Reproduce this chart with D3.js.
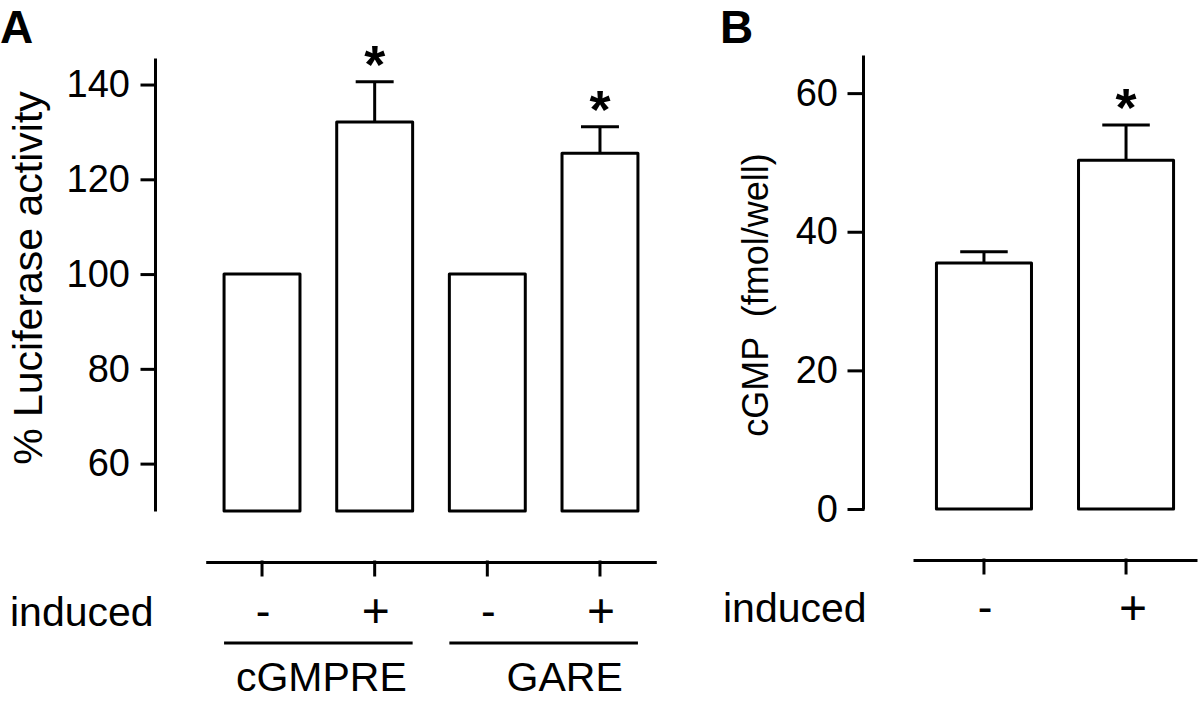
<!DOCTYPE html>
<html>
<head>
<meta charset="utf-8">
<script src="https://cdn.jsdelivr.net/npm/d3@7"></script>
<style>
  html, body { margin: 0; padding: 0; background: #fff; }
  svg { display: block; }
  text { font-family: "Liberation Sans", Arial, Helvetica, sans-serif; fill: #000; }
</style>
</head>
<body>
<svg id="chart" width="1200" height="701"></svg>
<script>
// ---------- data ----------
const catsA = ["cGMPRE -", "cGMPRE +", "GARE -", "GARE +"];
const inducedA = ["-", "+", "-", "+"];
const valuesA = [100, 132.1, 100, 125.5];
const errA = [0, 8.5, 0, 5.6];
const sigA = [false, true, false, true];
const groupsA = ["cGMPRE", "GARE"];
const ticksA = [60, 80, 100, 120, 140];

const catsB = ["-", "+"];
const valuesB = [35.5, 50.3];
const errB = [1.6, 5.1];
const sigB = [false, true];
const ticksB = [0, 20, 40, 60];

// ---------- setup ----------
const svg = d3.select("#chart");
const SW = 3;
const signSize = s => (s === "+" ? 48 : 44);

function styleAxis(g) {
  g.selectAll("path, line").attr("stroke", "#000").attr("stroke-width", SW).attr("stroke-linecap", "square");
  g.selectAll("text").attr("font-size", 38);
}

// ================= Panel A =================
const yA = d3.scaleLinear().domain([50, 145.6]).range([511, 58]);
const xA = d3.scaleBand().domain(catsA).range([205.7, 656.3]).paddingInner(0.326).paddingOuter(0.163);

svg.append("text").attr("x", 0).attr("y", 43).attr("font-size", 46).attr("font-weight", "bold").text("A");

const gyA = svg.append("g").attr("transform", "translate(155,0)")
  .call(d3.axisLeft(yA).tickValues(ticksA).tickSize(13).tickSizeOuter(0).tickPadding(12));
styleAxis(gyA);
gyA.select(".domain").attr("stroke-linecap", "butt");

svg.append("text")
  .attr("transform", "translate(42,278) rotate(-90)")
  .attr("text-anchor", "middle").attr("font-size", 41)
  .text("% Luciferase activity");

const barsA = catsA.map((c, i) => ({ c, v: valuesA[i], e: errA[i], s: sigA[i], lab: inducedA[i] }));

barsA.filter(d => d.e > 0).forEach(d => {
  const cx = xA(d.c) + xA.bandwidth() / 2;
  const hw = xA.bandwidth() / 4;
  svg.append("line").attr("x1", cx).attr("x2", cx).attr("y1", yA(d.v)).attr("y2", yA(d.v + d.e))
    .attr("stroke", "#000").attr("stroke-width", SW);
  svg.append("line").attr("x1", cx - hw).attr("x2", cx + hw).attr("y1", yA(d.v + d.e)).attr("y2", yA(d.v + d.e))
    .attr("stroke", "#000").attr("stroke-width", SW);
});

svg.append("g").selectAll("rect").data(barsA).join("rect")
  .attr("x", d => xA(d.c))
  .attr("y", d => yA(d.v))
  .attr("width", xA.bandwidth())
  .attr("height", d => yA(50) - yA(d.v))
  .attr("fill", "#fff").attr("stroke", "#000").attr("stroke-width", SW).attr("stroke-linejoin", "round");

svg.append("g").selectAll("text").data(barsA.filter(d => d.s)).join("text")
  .attr("x", d => xA(d.c) + xA.bandwidth() / 2)
  .attr("y", d => yA(d.v + d.e) + 1)
  .attr("text-anchor", "middle").attr("font-size", 54).attr("font-weight", "bold")
  .text("*");

const gxA = svg.append("g").attr("transform", "translate(0,562)")
  .call(d3.axisBottom(xA).tickSize(13).tickSizeOuter(0).tickFormat(""));
styleAxis(gxA);
gxA.select(".domain").attr("stroke-linecap", "butt");

svg.append("g").selectAll("text").data(barsA).join("text")
  .attr("x", d => xA(d.c) + xA.bandwidth() / 2 + 1)
  .attr("y", d => d.lab === "+" ? 627 : 626)
  .attr("text-anchor", "middle").attr("font-size", d => signSize(d.lab))
  .text(d => d.lab);

svg.append("text").attr("x", 10).attr("y", 626).attr("font-size", 41).text("induced");

const groupLabelDx = [3, 21];
groupsA.forEach((g, gi) => {
  const members = catsA.filter(c => c.startsWith(g));
  const x0 = xA(members[0]);
  const x1 = xA(members[members.length - 1]) + xA.bandwidth();
  svg.append("line").attr("x1", x0).attr("x2", x1).attr("y1", 643).attr("y2", 643)
    .attr("stroke", "#000").attr("stroke-width", SW);
  svg.append("text").attr("x", (x0 + x1) / 2 + groupLabelDx[gi]).attr("y", 691)
    .attr("text-anchor", "middle").attr("font-size", 41).text(g);
});

// ================= Panel B =================
const yB = d3.scaleLinear().domain([0, 65.5]).range([509, 55]);
const xB = d3.scaleBand().domain(catsB).range([913, 1197]).paddingInner(0.331).paddingOuter(0.165);

svg.append("text").attr("x", 720).attr("y", 43).attr("font-size", 46).attr("font-weight", "bold").text("B");

const gyB = svg.append("g").attr("transform", "translate(863,0)")
  .call(d3.axisLeft(yB).tickValues(ticksB).tickSize(14).tickSizeOuter(0).tickPadding(11));
styleAxis(gyB);
gyB.select(".domain").attr("stroke-linecap", "butt");

svg.append("text")
  .attr("transform", "translate(768,295) rotate(-90)")
  .attr("text-anchor", "middle").attr("font-size", 36)
  .attr("xml:space", "preserve")
  .text("cGMP  (fmol/well)");

const barsB = catsB.map((c, i) => ({ c, v: valuesB[i], e: errB[i], s: sigB[i] }));

barsB.filter(d => d.e > 0).forEach(d => {
  const cx = xB(d.c) + xB.bandwidth() / 2;
  const hw = xB.bandwidth() / 4;
  svg.append("line").attr("x1", cx).attr("x2", cx).attr("y1", yB(d.v)).attr("y2", yB(d.v + d.e))
    .attr("stroke", "#000").attr("stroke-width", SW);
  svg.append("line").attr("x1", cx - hw).attr("x2", cx + hw).attr("y1", yB(d.v + d.e)).attr("y2", yB(d.v + d.e))
    .attr("stroke", "#000").attr("stroke-width", SW);
});

svg.append("g").selectAll("rect").data(barsB).join("rect")
  .attr("x", d => xB(d.c))
  .attr("y", d => yB(d.v))
  .attr("width", xB.bandwidth())
  .attr("height", d => yB(0) - yB(d.v))
  .attr("fill", "#fff").attr("stroke", "#000").attr("stroke-width", SW).attr("stroke-linejoin", "round");

svg.append("g").selectAll("text").data(barsB.filter(d => d.s)).join("text")
  .attr("x", d => xB(d.c) + xB.bandwidth() / 2)
  .attr("y", d => yB(d.v + d.e) + 1)
  .attr("text-anchor", "middle").attr("font-size", 54).attr("font-weight", "bold")
  .text("*");

const gxB = svg.append("g").attr("transform", "translate(0,560)")
  .call(d3.axisBottom(xB).tickSize(13).tickSizeOuter(0).tickFormat(""));
styleAxis(gxB);
gxB.select(".domain").attr("stroke-linecap", "butt");

svg.append("g").selectAll("text").data(barsB).join("text")
  .attr("x", (d, i) => xB(d.c) + xB.bandwidth() / 2 + (i === 1 ? 7 : 1))
  .attr("y", d => d.c === "+" ? 624 : 622)
  .attr("text-anchor", "middle").attr("font-size", d => signSize(d.c))
  .text(d => d.c);

svg.append("text").attr("x", 723).attr("y", 622).attr("font-size", 41).text("induced");
</script>
</body>
</html>
